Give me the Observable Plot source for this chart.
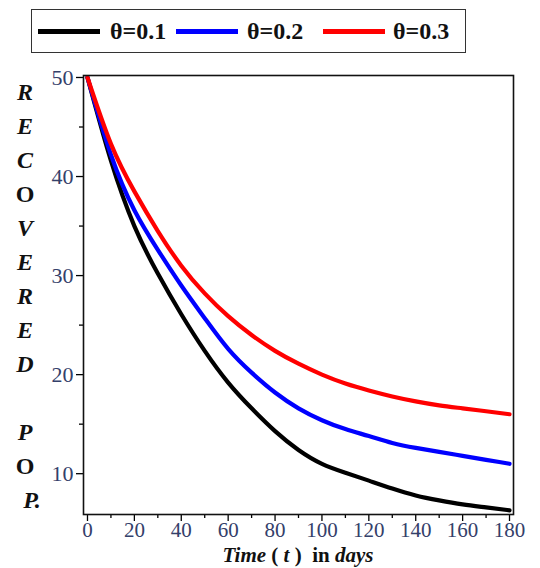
<!DOCTYPE html>
<html>
<head>
<meta charset="utf-8">
<script src="https://cdn.jsdelivr.net/npm/d3@7"></script>
<script src="https://cdn.jsdelivr.net/npm/@observablehq/plot@0.6"></script>
<style>
  html, body { margin: 0; padding: 0; background: #fff; }
  #wrap { position: relative; width: 540px; height: 568px; overflow: hidden; font-family: "Liberation Serif", "DejaVu Serif", serif; }
  #legend { position: absolute; left: 31px; top: 9px; width: 433px; height: 42px; border: 1.5px solid #333; box-sizing: content-box; }
  #legend .ln { position: absolute; top: 19px; height: 5px; }
  #legend .lb { position: absolute; top: 6px; font-size: 24px; font-weight: bold; line-height: 30px; color: #111; }
  #ylab { position: absolute; left: 0; top: 75px; width: 50px; text-align: center; font-size: 24px; font-weight: bold; font-style: italic; line-height: 34px; color: #111; }
  #ylab div { height: 34px; }
  #xlab { position: absolute; left: 83px; width: 430px; top: 545px; text-align: center; font-size: 21px; line-height: 21px; font-weight: bold; color: #111; white-space: nowrap; }
</style>
</head>
<body>
<div id="wrap">
  <div id="chart"></div>
  <div id="legend"></div>
  <div id="ylab"></div>
  <div id="xlab"><i>Time</i> ( <i>t</i> ) &nbsp;in <i>days</i></div>
</div>
<script>
// Data (time in days)
const time = [0, 10, 20, 30, 40, 50, 60, 70, 80, 90, 100, 110, 120, 130, 140, 150, 160, 170, 180];
const theta01 = [50, 41.6, 35.0, 30.2, 26.1, 22.4, 19.2, 16.6, 14.3, 12.4, 11.0, 10.1, 9.3, 8.5, 7.8, 7.3, 6.9, 6.6, 6.3];
const theta02 = [50, 42.2, 36.6, 32.6, 29.0, 25.7, 22.6, 20.2, 18.2, 16.6, 15.4, 14.5, 13.8, 13.1, 12.6, 12.2, 11.8, 11.4, 11.0];
const theta03 = [50, 43.3, 38.5, 34.5, 31.0, 28.2, 25.9, 24.0, 22.4, 21.1, 20.0, 19.1, 18.4, 17.8, 17.3, 16.9, 16.6, 16.3, 16.0];
const seriesNames = ["θ=0.1", "θ=0.2", "θ=0.3"];
const seriesColors = ["#000000", "#0000ff", "#ff0000"];
const xMajorTicks = [0, 20, 40, 60, 80, 100, 120, 140, 160, 180];
const xMinorTicks = [10, 30, 50, 70, 90, 110, 130, 150, 170];
const yMajorTicks = [10, 20, 30, 40, 50];
const yMinorTicks = [15, 25, 35, 45];
const yLabelLetters = ["R", "E", "C", "O", "V", "E", "R", "E", "D", "", "P", "O", "P."];

const seriesValues = [theta01, theta02, theta03];
const rows = [];
seriesValues.forEach((vals, i) => vals.forEach((v, j) => rows.push({t: time[j], v, s: seriesNames[i]})));

const tickColor = "#34406a";
const plot = Plot.plot({
  width: 540,
  height: 568,
  marginTop: 75,
  marginBottom: 54,
  marginLeft: 83,
  marginRight: 27,
  style: { fontFamily: "Liberation Serif, serif", fontSize: "22px", background: "#fff", overflow: "visible" },
  x: { domain: [-1.7, 181.7] },
  y: { domain: [5.88, 50.2] },
  color: { domain: seriesNames, range: seriesColors },
  marks: [
    Plot.axisX({ ticks: xMajorTicks, tickSize: 7, tickPadding: 1, tickFormat: d => String(d), label: null, color: tickColor, stroke: "#000", strokeWidth: 1.3, fontSize: 21 }),
    Plot.axisX({ ticks: xMinorTicks, tickSize: 4, text: null, label: null, stroke: "#000", strokeWidth: 1.3 }),
    Plot.axisY({ ticks: yMajorTicks, tickSize: 7, tickPadding: 3, tickFormat: d => String(d), label: null, color: tickColor, stroke: "#000", strokeWidth: 1.3, fontSize: 22 }),
    Plot.axisY({ ticks: yMinorTicks, tickSize: 4, text: null, label: null, stroke: "#000", strokeWidth: 1.3 }),
    Plot.line(rows, { x: "t", y: "v", z: "s", stroke: "s", strokeWidth: 4.2, curve: "natural" }),
    Plot.frame({ stroke: "#111", strokeWidth: 1.6 })
  ]
});
document.getElementById("chart").appendChild(plot);

// legend
const legend = document.getElementById("legend");
const lineLefts = [6, 144, 291];
const labelLefts = [78, 215, 361];
seriesNames.forEach((name, i) => {
  const ln = document.createElement("div");
  ln.className = "ln";
  ln.style.left = lineLefts[i] + "px";
  ln.style.width = "62px";
  ln.style.background = seriesColors[i];
  legend.appendChild(ln);
  const lb = document.createElement("div");
  lb.className = "lb";
  lb.style.left = labelLefts[i] + "px";
  lb.textContent = name;
  legend.appendChild(lb);
});

// vertical y label
const ylab = document.getElementById("ylab");
yLabelLetters.forEach(ch => {
  const d = document.createElement("div");
  d.textContent = ch;
  if (ch === "O") d.style.fontStyle = "normal";
  if (ch === "P.") d.style.paddingLeft = "14px";
  ylab.appendChild(d);
});
</script>
</body>
</html>
